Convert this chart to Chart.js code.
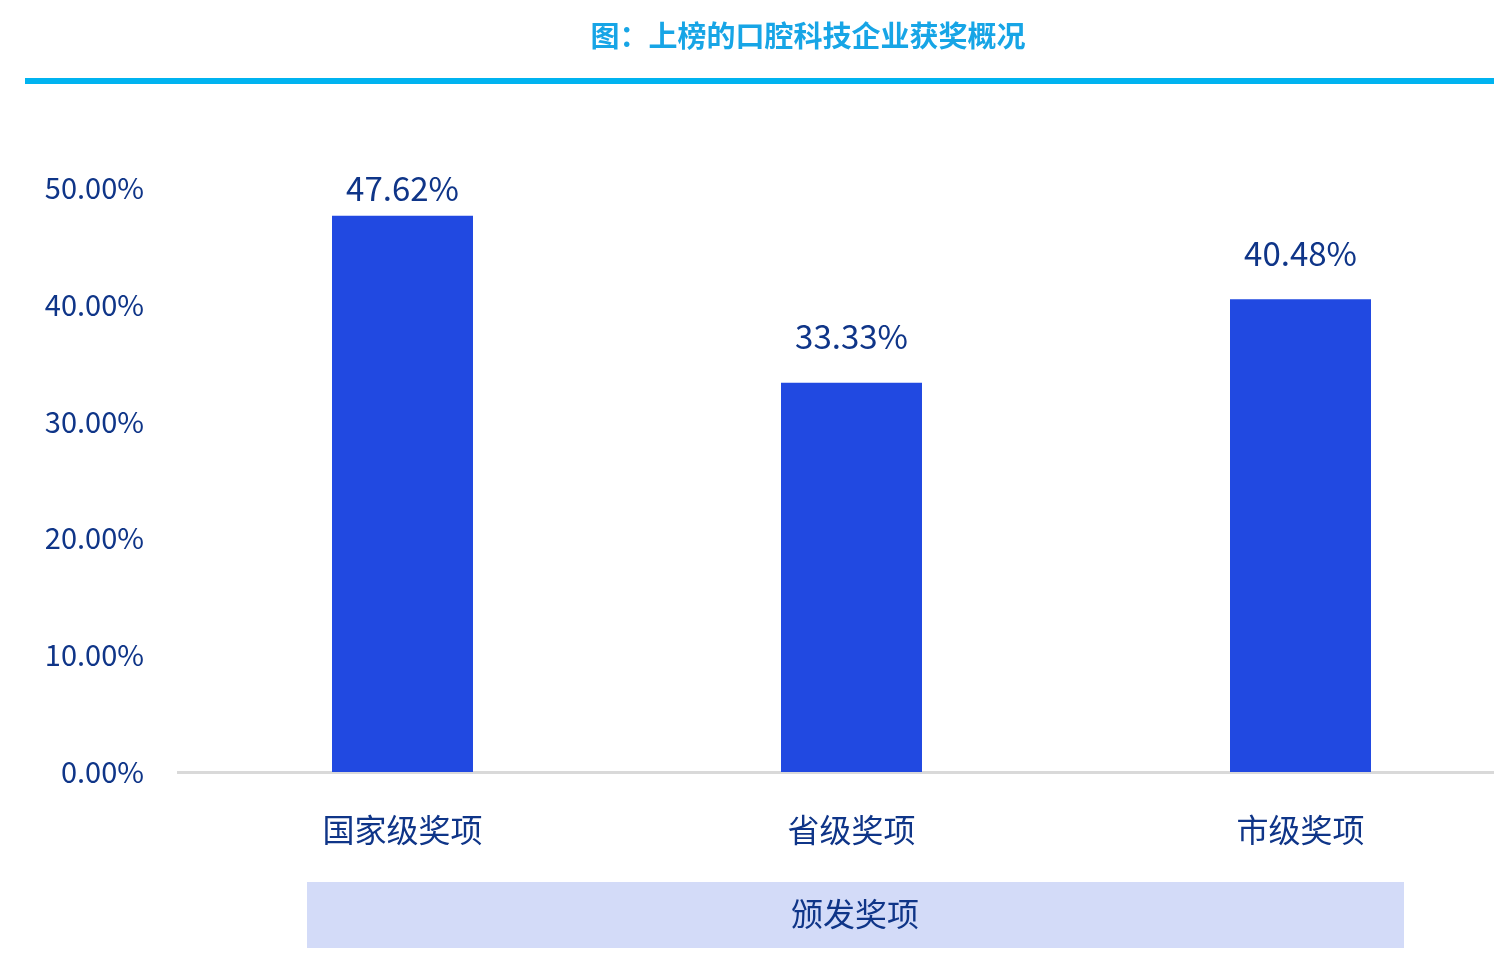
<!DOCTYPE html>
<html>
<head>
<meta charset="utf-8">
<script src="https://cdn.jsdelivr.net/npm/chart.js@4"></script>
<style>
    html, body { margin: 0; padding: 0; background: #fff; overflow: hidden; }
    #wrap { width: 1525px; height: 974px; }
</style>
</head>
<body>
<div id="wrap"><canvas id="awardChart" width="1525" height="974"></canvas></div>
<script>
// --- DỮ LIỆU ---
const categories = ['国家级奖项', '省级奖项', '市级奖项'];
const awardShare = [47.62, 33.33, 40.48];
const yTicks = [0, 10, 20, 30, 40, 50];
const chartTitle = '图：上榜的口腔科技企业获奖概况';
const axisTitle = '颁发奖项';

const FONT = '"Noto Sans CJK SC", "Noto Sans", sans-serif';
const NAVY = '#0f3588';

// tiêu đề + vạch xanh + hộp tên trục
const decorPlugin = {
    id: 'decor',
    beforeDraw(chart) {
        const ctx = chart.ctx;
        ctx.save();
        ctx.fillStyle = '#ffffff';
        ctx.fillRect(0, 0, chart.width, chart.height);
        ctx.fillStyle = '#17a5e6';
        ctx.font = 'bold 29px ' + FONT;
        ctx.textAlign = 'center';
        ctx.textBaseline = 'middle';
        ctx.fillText(chartTitle, 808, 36);
        ctx.fillStyle = '#00b3f0';
        ctx.fillRect(25, 78, 1469, 6);
        ctx.restore();
    },
    afterDraw(chart) {
        const ctx = chart.ctx;
        ctx.save();
        ctx.fillStyle = '#d3dbf8';
        ctx.fillRect(307, 882, 1097, 66);
        ctx.fillStyle = NAVY;
        ctx.font = '32px ' + FONT;
        ctx.textAlign = 'center';
        ctx.textBaseline = 'middle';
        ctx.fillText(axisTitle, 855, 914);
        ctx.restore();
    }
};

// nhãn giá trị trên cột (không vượt quá đỉnh vùng vẽ)
const valueLabels = {
    id: 'valueLabels',
    afterDatasetsDraw(chart) {
        const ctx = chart.ctx;
        const meta = chart.getDatasetMeta(0);
        ctx.save();
        ctx.fillStyle = NAVY;
        ctx.font = '33px ' + FONT;
        ctx.textAlign = 'center';
        ctx.textBaseline = 'middle';
        meta.data.forEach((bar, i) => {
            const y = Math.max(bar.y - 46, chart.chartArea.top);
            ctx.fillText(awardShare[i].toFixed(2) + '%', bar.x, y);
        });
        ctx.restore();
    }
};

new Chart(document.getElementById('awardChart'), {
    type: 'bar',
    data: {
        labels: categories,
        datasets: [{
            data: awardShare,
            backgroundColor: '#2149e1',
            barPercentage: 0.314,
            categoryPercentage: 1
        }]
    },
    options: {
        responsive: false,
        animation: false,
        layout: { padding: { top: 188, left: 0, right: 0, bottom: 0 } },
        plugins: {
            legend: { display: false },
            tooltip: { enabled: false },
            title: { display: false }
        },
        scales: {
            x: {
                grid: { display: false, drawTicks: false },
                border: { display: true, color: '#d9d9d9', width: 3 },
                ticks: { color: NAVY, font: { family: FONT, size: 32 }, padding: 39 },
                afterFit(scale) { scale.height = 202; }
            },
            y: {
                min: 0,
                max: 50,
                afterBuildTicks(scale) { scale.ticks = yTicks.map(v => ({ value: v })); },
                grid: { display: false, drawTicks: false },
                border: { display: false },
                ticks: {
                    color: NAVY,
                    font: { family: FONT, size: 29 },
                    padding: 34,
                    callback: v => v.toFixed(2) + '%'
                },
                afterFit(scale) { scale.width = 178; }
            }
        }
    },
    plugins: [decorPlugin, valueLabels]
});
</script>
</body>
</html>
